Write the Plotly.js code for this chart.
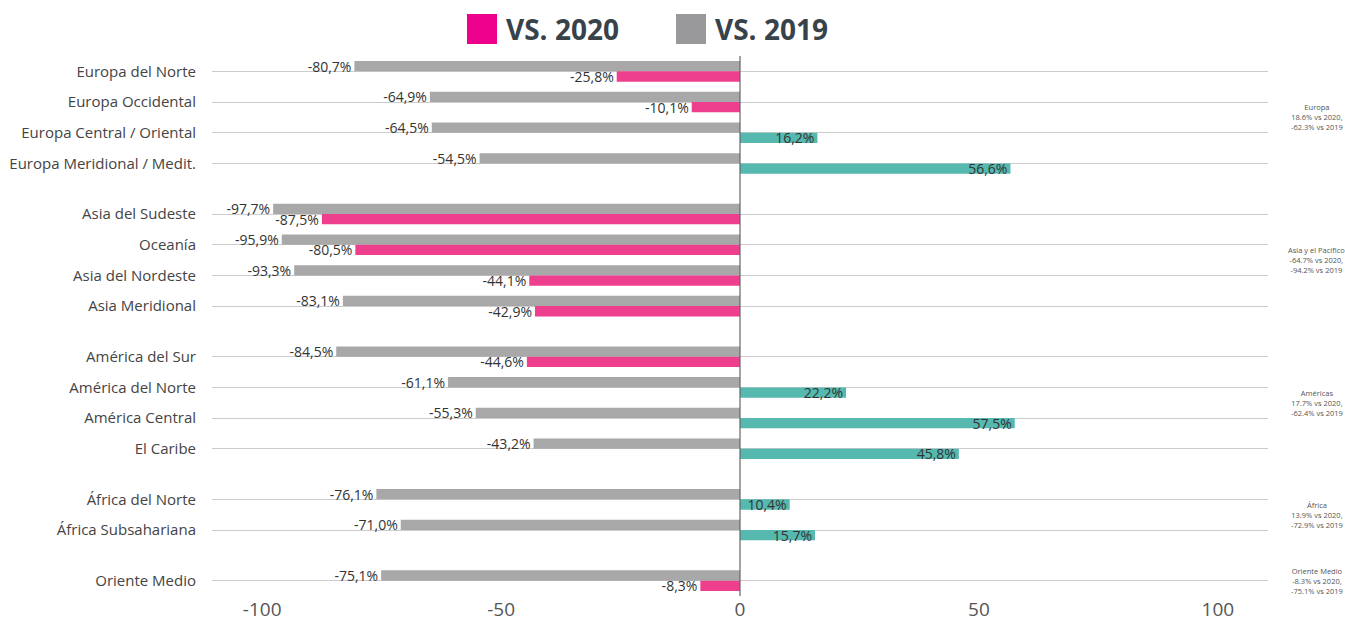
<!DOCTYPE html>
<html>
<head>
<meta charset="utf-8">
<script src="https://cdn.plot.ly/plotly-3.0.1.min.js"></script>
<style>html,body{margin:0;padding:0;background:#fff;}#chart{width:1345px;height:629px;}</style>
</head>
<body>
<div id="chart"></div>
<script>
// ---- data ----
const europaCats = ["Europa del Norte", "Europa Occidental", "Europa Central / Oriental", "Europa Meridional / Medit."];
const europa2019 = [-80.7, -64.9, -64.5, -54.5];
const europa2020 = [-25.8, -10.1, 16.2, 56.6];

const asiaCats = ["Asia del Sudeste", "Oceanía", "Asia del Nordeste", "Asia Meridional"];
const asia2019 = [-97.7, -95.9, -93.3, -83.1];
const asia2020 = [-87.5, -80.5, -44.1, -42.9];

const americasCats = ["América del Sur", "América del Norte", "América Central", "El Caribe"];
const americas2019 = [-84.5, -61.1, -55.3, -43.2];
const americas2020 = [-44.6, 22.2, 57.5, 45.8];

const africaCats = ["África del Norte", "África Subsahariana"];
const africa2019 = [-76.1, -71.0];
const africa2020 = [10.4, 15.7];

const medioCats = ["Oriente Medio"];
const medio2019 = [-75.1];
const medio2020 = [-8.3];

const groupLabels = [
  "Europa<br>18.6% vs 2020,<br>-62.3% vs 2019",
  "Asia y el Pacífico<br>-64.7% vs 2020,<br>-94.2% vs 2019",
  "Américas<br>17.7% vs 2020,<br>-62.4% vs 2019",
  "África<br>13.9% vs 2020,<br>-72.9% vs 2019",
  "Oriente Medio<br>-8.3% vs 2020,<br>-75.1% vs 2019"
];
const legendNames = ["VS. 2020", "VS. 2019"];
const xTickVals = [-100, -50, 0, 50, 100];
const xTickText = ["-100", "-50", "0", "50", "100"];

// ---- styling ----
const FONT = "Open Sans, sans-serif";
const GRAY = "#a8a8a8";
const PINK = "#ee3f8f";
const TEAL = "#55b9af";
const LEG_PINK = "#ec008c";
const LEG_GRAY = "#99999c";

const groups = [
  {cats: europaCats, v19: europa2019, v20: europa2020},
  {cats: asiaCats, v19: asia2019, v20: asia2020},
  {cats: americasCats, v19: americas2019, v20: americas2020},
  {cats: africaCats, v19: africa2019, v20: africa2020},
  {cats: medioCats, v19: medio2019, v20: medio2020}
];

const fmt = v => v.toFixed(1).replace(".", ",") + "%";

const totalCats = groups.reduce((s, g) => s + g.cats.length, 0);
const gapRatio = 0.648;
const h = 1 / (totalCats + gapRatio * (groups.length - 1));
const gap = gapRatio * h;

const traces = [];
const layout = {
  width: 1345, height: 629,
  margin: {l: 212, r: 77, t: 56, b: 33},
  paper_bgcolor: "#fff", plot_bgcolor: "#fff",
  barmode: "group", bargap: 0.33, bargroupgap: 0,
  showlegend: false,
  font: {family: FONT, color: "#444"},
  annotations: [], shapes: []
};

let cursor = 1;
groups.forEach((g, i) => {
  const n = i + 1;
  const xa = n === 1 ? "x" : "x" + n;
  const ya = n === 1 ? "y" : "y" + n;
  const bottom = cursor - g.cats.length * h;
  const dom = [Math.max(0, bottom), Math.min(1, cursor)];

  traces.push({
    type: "bar", orientation: "h", name: legendNames[1],
    y: g.cats, x: g.v19, xaxis: xa, yaxis: ya,
    marker: {color: GRAY},
    text: g.v19.map(fmt), textposition: "outside", constraintext: "none", cliponaxis: false,
    textfont: {family: FONT, size: 14, color: "#333"},
    hoverinfo: "x+y"
  });
  traces.push({
    type: "bar", orientation: "h", name: legendNames[0],
    y: g.cats, x: g.v20, xaxis: xa, yaxis: ya,
    marker: {color: g.v20.map(v => v < 0 ? PINK : TEAL)},
    text: g.v20.map(fmt), textposition: g.v20.map(v => v < 0 ? "outside" : "inside"),
    insidetextanchor: "end", constraintext: "none", cliponaxis: false,
    textfont: {family: FONT, size: 14, color: "#333"},
    insidetextfont: {family: FONT, size: 14, color: "#333"},
    outsidetextfont: {family: FONT, size: 14, color: "#333"},
    hoverinfo: "x+y"
  });

  const isLast = n === groups.length;
  const xaxisObj = {
    anchor: ya, domain: [0, 1], range: [-110.5, 110.5],
    showgrid: false, zeroline: false, showline: false,
    showticklabels: isLast,
    tickmode: "array", tickvals: xTickVals, ticktext: xTickText,
    ticks: "", 
    tickfont: {family: FONT, size: 19, color: "#555"}
  };
  if (n !== 1) xaxisObj.matches = "x";
  layout["xaxis" + (n === 1 ? "" : n)] = xaxisObj;
  layout["yaxis" + (n === 1 ? "" : n)] = {
    anchor: xa, domain: dom, autorange: "reversed",
    type: "category",
    showgrid: true, gridcolor: "#cccccc", gridwidth: 1,
    zeroline: false, showline: false,
    ticks: "outside", ticklen: 12, tickcolor: "rgba(0,0,0,0)",
    tickfont: {family: FONT, size: 15, color: "#444"}
  };
  layout.annotations.push({
    xref: "paper", yref: "paper", x: 1.046, y: (dom[0] + dom[1]) / 2,
    xanchor: "center", yanchor: "middle", align: "center",
    text: groupLabels[i], showarrow: false,
    font: {family: FONT, size: 7.5, color: "#555"}
  });
  cursor = bottom - gap;
});

// zero line across all panels
layout.shapes.push({
  type: "line", xref: "x", yref: "paper", x0: 0, x1: 0, y0: 0, y1: 1,
  line: {color: "#666", width: 1.2}, layer: "above"
});

// custom legend (big swatches)
layout.shapes.push({
  type: "rect", xref: "paper", yref: "paper",
  x0: (467 - 212) / 1056, x1: (497 - 212) / 1056,
  y0: 1 + (56 - 44) / 540, y1: 1 + (56 - 14) / 540,
  fillcolor: LEG_PINK, line: {width: 0}
});
layout.shapes.push({
  type: "rect", xref: "paper", yref: "paper",
  x0: (676 - 212) / 1056, x1: (706 - 212) / 1056,
  y0: 1 + (56 - 44) / 540, y1: 1 + (56 - 14) / 540,
  fillcolor: LEG_GRAY, line: {width: 0}
});
layout.annotations.push({
  xref: "paper", yref: "paper", x: (504 - 212) / 1056, y: 1 + (56 - 29) / 540,
  xanchor: "left", yanchor: "middle", showarrow: false,
  text: "<b>" + legendNames[0] + "</b>",
  font: {family: FONT, size: 28, color: "#37424a"}
});
layout.annotations.push({
  xref: "paper", yref: "paper", x: (713 - 212) / 1056, y: 1 + (56 - 29) / 540,
  xanchor: "left", yanchor: "middle", showarrow: false,
  text: "<b>" + legendNames[1] + "</b>",
  font: {family: FONT, size: 28, color: "#37424a"}
});

Plotly.newPlot("chart", traces, layout, {displayModeBar: false, responsive: false});
</script>
</body>
</html>
